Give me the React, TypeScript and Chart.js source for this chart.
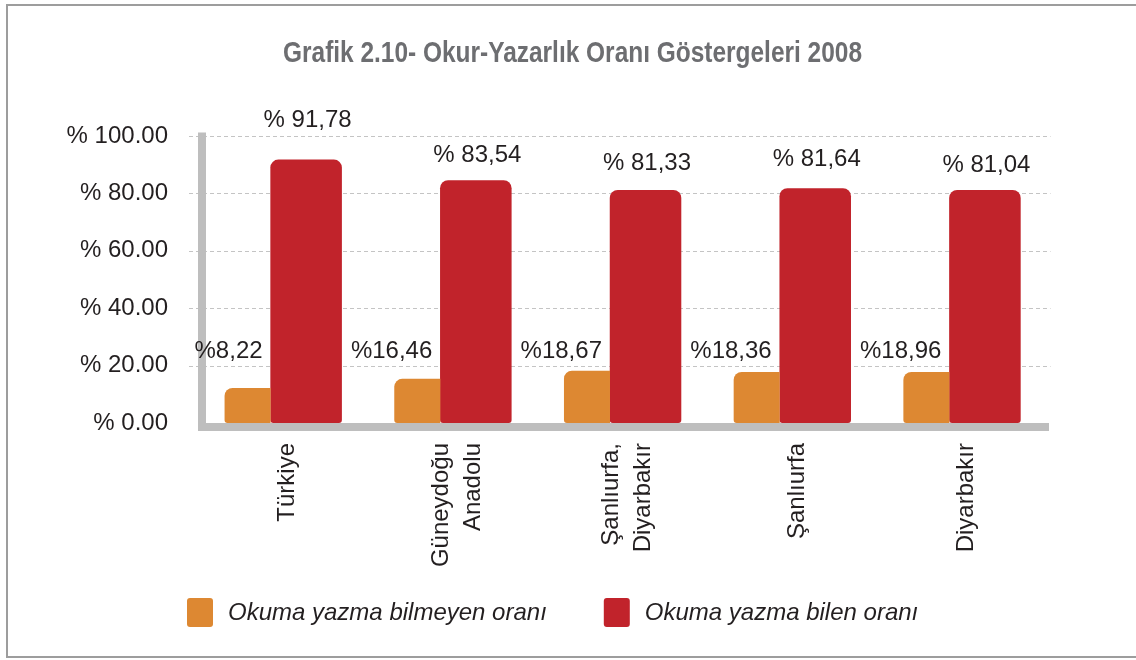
import React, { useEffect, useRef } from "react";
import { Chart, registerables } from "chart.js";

Chart.register(...registerables);

// ---------- data ----------
const chartTitle = "Grafik 2.10- Okur-Yazarlık Oranı Göstergeleri 2008";
const categories: string[][] = [
  ["Türkiye"],
  ["Güneydoğu", "Anadolu"],
  ["Şanlıurfa,", "Diyarbakır"],
  ["Şanlıurfa"],
  ["Diyarbakır"],
];
const seriesNames = ["Okuma yazma bilmeyen oranı", "Okuma yazma bilen oranı"];
const illiterateValues = [12.2, 15.4, 18.2, 17.8, 17.8];
const literateValues = [91.8, 84.6, 81.2, 81.8, 81.2];
const illiterateLabels = ["%8,22", "%16,46", "%18,67", "%18,36", "%18,96"];
const literateLabels = ["% 91,78", "% 83,54", "% 81,33", "% 81,64", "% 81,04"];
const yTicks = [0, 20, 40, 60, 80, 100];

// ---------- style ----------
const FONT = "'Liberation Sans', Arial, Helvetica, sans-serif";
const ORANGE = "#DD8832";
const RED = "#C1232B";
const TEXT = "#231f20";
const literateLabelLift = [39, 25, 27, 29, 25];

const decorPlugin = {
  id: "decor",
  beforeDraw(chart: any) {
    const ctx = chart.ctx as CanvasRenderingContext2D;
    ctx.save();
    ctx.fillStyle = "#ffffff";
    ctx.fillRect(0, 0, chart.width, chart.height);
    // frame
    ctx.strokeStyle = "#9d9d9d";
    ctx.lineWidth = 2;
    ctx.beginPath();
    ctx.moveTo(chart.width + 4, 5);
    ctx.lineTo(7, 5);
    ctx.lineTo(7, 657);
    ctx.lineTo(chart.width + 4, 657);
    ctx.stroke();
    // title (condensed look)
    ctx.font = `bold 30px ${FONT}`;
    const w = ctx.measureText(chartTitle).width;
    ctx.translate(572.5, 62);
    ctx.scale(579 / w, 1);
    ctx.fillStyle = "#6d6e71";
    ctx.textAlign = "center";
    ctx.textBaseline = "alphabetic";
    ctx.fillText(chartTitle, 0, 0);
    ctx.restore();
  },
  beforeDatasetsDraw(chart: any) {
    const ctx = chart.ctx as CanvasRenderingContext2D;
    const { chartArea } = chart;
    const y = chart.scales.y;
    ctx.save();
    ctx.strokeStyle = "#c4c4c4";
    ctx.lineWidth = 1;
    ctx.setLineDash([4, 3]);
    for (const v of yTicks) {
      if (v === 0) continue;
      const py = Math.round(y.getPixelForValue(v)) + 0.5;
      ctx.beginPath();
      ctx.moveTo(chartArea.left - 3, py);
      ctx.lineTo(chartArea.right + 10, py);
      ctx.stroke();
    }
    ctx.setLineDash([]);
    const y0 = y.getPixelForValue(0);
    const y100 = y.getPixelForValue(100);
    ctx.fillStyle = "#bebebe";
    ctx.fillRect(chartArea.left + 6, y100 - 3.5, 8, y0 - y100 + 3.5 + 8);
    ctx.fillRect(chartArea.left + 6, y0, chartArea.right + 8.5 - (chartArea.left + 6), 8);
    ctx.restore();
  },
  afterDatasetsDraw(chart: any) {
    const ctx = chart.ctx as CanvasRenderingContext2D;
    const x = chart.scales.x;
    const y = chart.scales.y;
    ctx.save();
    ctx.fillStyle = TEXT;
    ctx.font = `24px ${FONT}`;
    // value labels
    const m0 = chart.getDatasetMeta(0);
    const m1 = chart.getDatasetMeta(1);
    m0.data.forEach((bar: any, i: number) => {
      const p = bar.getProps(["x", "y", "width"], true);
      ctx.textAlign = "right";
      ctx.textBaseline = "middle";
      ctx.fillText(illiterateLabels[i], p.x + p.width / 2 - 8, y.getPixelForValue(0) - 72);
    });
    m1.data.forEach((bar: any, i: number) => {
      const p = bar.getProps(["x", "y", "width"], true);
      ctx.textAlign = "center";
      ctx.textBaseline = "middle";
      ctx.fillText(literateLabels[i], p.x + 1.5, p.y - literateLabelLift[i]);
    });
    // category labels (rotated)
    const labels = chart.data.labels as string[][];
    labels.forEach((lines, i) => {
      const cx = x.getPixelForValue(i) + 11;
      const n = lines.length;
      lines.forEach((line, j) => {
        const lx = cx + (j - (n - 1) / 2) * 32;
        ctx.save();
        ctx.translate(lx, 443);
        ctx.rotate(-Math.PI / 2);
        ctx.textAlign = "right";
        ctx.textBaseline = "middle";
        ctx.fillText(line, 0, 0);
        ctx.restore();
      });
    });
    // legend
    ctx.font = `italic 24px ${FONT}`;
    let lx = 187;
    chart.data.datasets.forEach((ds: any) => {
      ctx.fillStyle = ds.backgroundColor;
      ctx.beginPath();
      (ctx as any).roundRect(lx, 598, 26, 29, 3);
      ctx.fill();
      ctx.fillStyle = TEXT;
      ctx.textAlign = "left";
      ctx.textBaseline = "middle";
      ctx.fillText(ds.label, lx + 41, 613);
      lx += 41 + ctx.measureText(ds.label).width + 57;
    });
    ctx.restore();
  },
};

export default function App() {
  const ref = useRef<HTMLCanvasElement>(null);
  useEffect(() => {
    const chart = new Chart(ref.current as HTMLCanvasElement, {
      type: "bar",
      data: {
        labels: categories as any,
        datasets: [
          {
            label: seriesNames[0],
            data: illiterateValues,
            backgroundColor: ORANGE,
            borderWidth: 0,
            borderSkipped: false,
            borderRadius: { topLeft: 8, topRight: 0, bottomLeft: 3, bottomRight: 0 },
            barPercentage: 0.786,
            categoryPercentage: 0.69,
          },
          {
            label: seriesNames[1],
            data: literateValues,
            backgroundColor: RED,
            borderWidth: 0,
            borderSkipped: false,
            borderRadius: { topLeft: 8, topRight: 8, bottomLeft: 3, bottomRight: 3 },
            barPercentage: 1.222,
            categoryPercentage: 0.69,
          },
        ],
      },
      options: {
        responsive: false,
        animation: false,
        devicePixelRatio: 1,
        layout: { padding: { top: 136, right: 95.5, left: 0, bottom: 0 } },
        plugins: {
          legend: { display: false },
          title: { display: false },
          tooltip: { enabled: false },
        },
        scales: {
          x: {
            grid: { display: false },
            border: { display: false },
            ticks: { display: false },
            afterFit: (s: any) => {
              s.height = 237;
            },
          },
          y: {
            min: 0,
            max: 100,
            grid: { display: false, drawTicks: false },
            border: { display: false },
            ticks: {
              stepSize: 20,
              padding: 24,
              color: TEXT,
              font: { family: FONT, size: 24 },
              callback: (v: any) => "% " + Number(v).toFixed(2),
            },
            afterFit: (s: any) => {
              s.width = 192;
            },
          },
        },
      },
      plugins: [decorPlugin],
    } as any);
    return () => chart.destroy();
  }, []);
  return (
    <div style={{ position: "fixed", left: 0, top: 0, width: 1136, height: 660, background: "#fff" }}>
      <canvas ref={ref} width={1136} height={660} style={{ display: "block", width: 1136, height: 660 }} />
    </div>
  );
}
